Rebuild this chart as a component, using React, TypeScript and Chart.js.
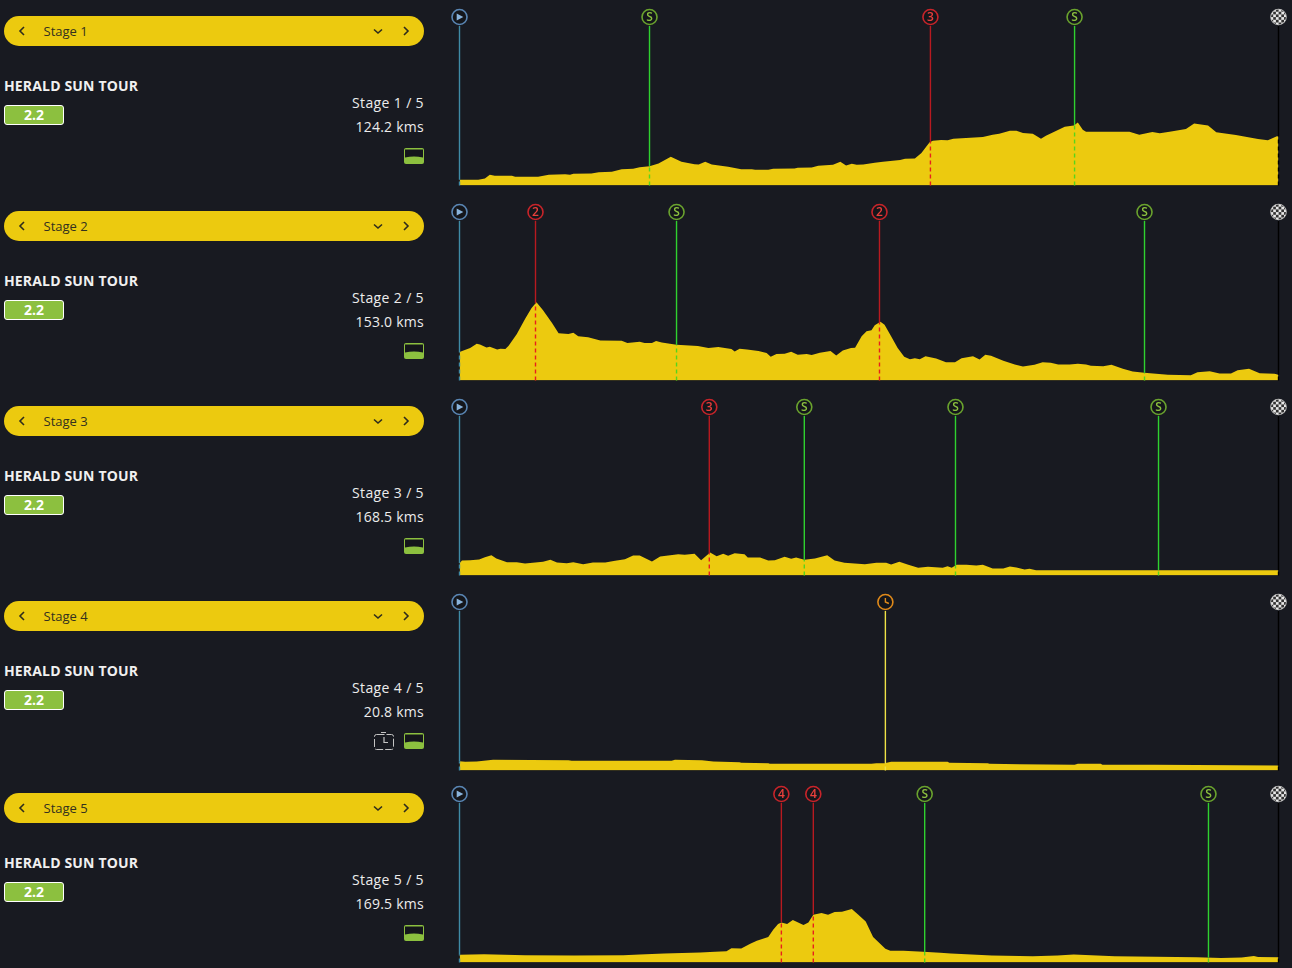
import React, { useEffect, useRef } from "react";
import { Chart, registerables } from "chart.js";

Chart.register(...registerables);

const raceName = "HERALD SUN TOUR";
const raceClass = "2.2";
const stageLabels = ["Stage 1", "Stage 2", "Stage 3", "Stage 4", "Stage 5"];
const stageCounts = ["Stage 1 / 5", "Stage 2 / 5", "Stage 3 / 5", "Stage 4 / 5", "Stage 5 / 5"];
const stageDistances = ["124.2 kms", "153.0 kms", "168.5 kms", "20.8 kms", "169.5 kms"];

const stage1Pct = [0, 2.3, 3.1, 3.7, 4.3, 6.4, 6.8, 9.6, 10.9, 12.9, 13.5, 13.9, 16.1, 17, 18.6, 19.8, 21.2, 22, 23.2, 24.3, 25.8, 27.1, 28.7, 29.2, 30, 30.8, 32.8, 34.4, 35.7, 36.1, 37.7, 38.3, 40.9, 41.3, 43, 43.8, 45.6, 46.5, 47.2, 47.9, 48.5, 49.3, 50.7, 51.7, 53.8, 54.4, 55.6, 56.4, 57.4, 57.8, 58.8, 59.6, 60.3, 63.9, 65.1, 65.9, 67.2, 68, 68.8, 70, 71, 71.6, 73.9, 75, 75.5, 76.1, 76.5, 81.8, 83, 84.6, 85.5, 86.7, 88.7, 89.7, 91.4, 92.4, 94.8, 97.5, 98.7, 99.8, 100];
const stage1Elev = [57, 57, 70, 107, 97, 97, 87, 87, 107, 113, 107, 117, 120, 133, 137, 163, 167, 183, 193, 220, 287, 237, 213, 210, 237, 210, 187, 163, 163, 157, 157, 167, 170, 177, 180, 197, 207, 237, 200, 217, 207, 210, 227, 237, 253, 267, 270, 323, 430, 447, 453, 450, 467, 483, 507, 517, 547, 547, 523, 517, 467, 497, 587, 597, 627, 557, 537, 537, 507, 533, 520, 537, 563, 617, 597, 530, 503, 463, 450, 490, 490];

const stage2Pct = [0, 1.3, 2.1, 2.5, 3.3, 3.7, 4.6, 5, 5.6, 6, 7, 8, 8.8, 9.4, 10.2, 11.3, 12.1, 13.3, 13.9, 14.5, 15.7, 17.2, 19.8, 20.5, 22, 22.6, 23.5, 24, 24.7, 26.5, 29.1, 30.4, 31.6, 33.2, 33.6, 34.2, 35.1, 36.5, 37.5, 38, 38.7, 39.7, 40.5, 41.3, 42.4, 43, 44, 45.3, 46, 46.8, 47.8, 48.3, 49.1, 49.7, 50.3, 50.7, 51.4, 51.9, 52.7, 53.5, 54.3, 55, 55.6, 56.2, 56.9, 58.2, 59.4, 60.5, 61.3, 62.7, 63.5, 64.2, 64.9, 66.4, 67.8, 68.8, 70.2, 71.2, 72.2, 73.1, 74.5, 75.5, 76.5, 77.1, 78.6, 79.6, 81, 82.2, 83.6, 86.5, 89.3, 90.1, 91.6, 92.8, 94.2, 95, 96.4, 97.7, 99.5, 100];
const stage2Elev = [283, 323, 367, 360, 330, 337, 310, 317, 313, 347, 463, 613, 723, 780, 700, 573, 470, 463, 477, 440, 430, 400, 397, 373, 387, 373, 373, 393, 380, 357, 343, 323, 333, 313, 290, 317, 310, 293, 273, 237, 263, 267, 287, 257, 263, 253, 277, 293, 250, 300, 323, 327, 440, 490, 500, 550, 587, 557, 440, 323, 237, 213, 223, 213, 243, 220, 183, 183, 223, 243, 210, 257, 247, 197, 160, 140, 157, 183, 177, 160, 160, 167, 160, 147, 143, 157, 117, 90, 77, 57, 53, 83, 93, 70, 70, 103, 117, 73, 67, 57];

const stage3Pct = [0, 0.3, 1.3, 2.4, 3.1, 3.9, 4.5, 5.8, 7, 8, 10.2, 11.1, 11.9, 13.1, 13.9, 15.1, 16.3, 17.8, 19, 20.2, 21.2, 22, 23.5, 24.5, 26.7, 27.5, 28.7, 29.5, 30.6, 31.4, 32.2, 32.8, 33.6, 34.8, 35.2, 36.7, 37.7, 38.5, 39.7, 40.5, 41.1, 42.1, 43.4, 44.9, 45.8, 47, 49.5, 50.9, 52.1, 52.7, 53.7, 54.8, 56, 57.2, 59, 59.6, 60.1, 60.7, 61.9, 63.1, 63.9, 65.1, 66.4, 67.2, 68, 69, 69.6, 70.4, 100];
const stage3Elev = [123, 150, 153, 160, 183, 203, 170, 133, 133, 120, 137, 157, 130, 123, 133, 113, 130, 130, 147, 163, 200, 200, 140, 190, 213, 207, 217, 153, 230, 193, 217, 197, 223, 213, 180, 180, 150, 153, 187, 167, 180, 157, 170, 203, 150, 127, 113, 127, 127, 110, 137, 107, 77, 87, 77, 93, 77, 107, 107, 100, 107, 70, 70, 90, 80, 60, 67, 53, 53];

const stage4Pct = [0, 0.7, 2.1, 4.1, 13.3, 13.7, 25.9, 26.3, 29.6, 31, 34.2, 34.4, 37.7, 37.9, 50.3, 50.9, 51.9, 52.7, 59.6, 59.8, 64.5, 64.7, 68.4, 75.1, 75.5, 78.3, 78.5, 84.8, 99.9, 100];
const stage4Elev = [93, 87, 90, 107, 103, 97, 97, 107, 103, 90, 83, 77, 73, 67, 67, 73, 73, 87, 87, 77, 73, 67, 63, 57, 67, 67, 57, 57, 50, 50];

const stage5Pct = [0, 3, 8, 14, 20, 22, 25, 29.4, 31.2, 32.6, 33.2, 34.4, 35.5, 36.3, 37.7, 38.3, 38.9, 39.3, 40, 40.7, 42, 42.6, 43.2, 44.2, 45, 45.8, 46.7, 47.9, 48.7, 49.6, 50.5, 52, 52.6, 54.2, 55.4, 56.6, 58.7, 60, 65, 70, 73, 75, 80, 85, 90, 93, 95.5, 97, 97.5, 100];
const stage5Elev = [77, 83, 73, 70, 73, 80, 90, 100, 107, 113, 143, 140, 187, 217, 253, 327, 383, 400, 383, 423, 373, 400, 477, 493, 477, 503, 507, 533, 477, 410, 253, 137, 117, 117, 113, 107, 97, 90, 70, 63, 70, 80, 63, 57, 53, 45, 50, 65, 55, 53];

const profilePcts = [stage1Pct, stage2Pct, stage3Pct, stage4Pct, stage5Pct];
const profileElevs = [stage1Elev, stage2Elev, stage3Elev, stage4Elev, stage5Elev];

// Marker kinds: P start, S sprint, digit climb category, T time check, F finish
const stage1MarkerPct = [0, 23.2, 57.5, 75.1, 100];
const stage1MarkerKind = ["P", "S", "3", "S", "F"];
const stage2MarkerPct = [0, 9.28, 26.5, 51.28, 83.64, 100];
const stage2MarkerKind = ["P", "2", "S", "2", "S", "F"];
const stage3MarkerPct = [0, 30.5, 42.1, 60.56, 85.35, 100];
const stage3MarkerKind = ["P", "3", "S", "S", "S", "F"];
const stage4MarkerPct = [0, 52, 100];
const stage4MarkerKind = ["P", "T", "F"];
const stage5MarkerPct = [0, 39.3, 43.2, 56.8, 91.45, 100];
const stage5MarkerKind = ["P", "4", "4", "S", "S", "F"];

const markerPcts = [stage1MarkerPct, stage2MarkerPct, stage3MarkerPct, stage4MarkerPct, stage5MarkerPct];
const markerKinds = [stage1MarkerKind, stage2MarkerKind, stage3MarkerKind, stage4MarkerKind, stage5MarkerKind];

const PAGE_BG = "#181a21";
const YELLOW = "#ecca0f";
const PANEL_STEP = [0, 195, 390, 585, 777];
const Y_MAX = 1680;
const LINE_TOP = 1590;

function colours(kind: string) {
  if (kind === "P") return { ring: "#5a86b4", line: "#3f8ba6", dash: "#3f8ba6", glyph: "#8ab4dc" };
  if (kind === "S") return { ring: "#6aa32e", line: "#2fd12f", dash: "#55d51c", glyph: "#8cc03f" };
  if (kind === "T") return { ring: "#e08a1a", line: "#efe246", dash: "#efe246", glyph: "#e08a1a" };
  if (kind === "F") return { ring: "#bbbbbb", line: "#000000", dash: "#000000", glyph: "#ffffff" };
  return { ring: "#c8242a", line: "#b81a20", dash: "#e8201c", glyph: "#e8403c" };
}

function elevAt(pcts: number[], elevs: number[], p: number) {
  for (let i = 1; i < pcts.length; i++) {
    if (p <= pcts[i]) {
      const t = (p - pcts[i - 1]) / (pcts[i] - pcts[i - 1]);
      return elevs[i - 1] + t * (elevs[i] - elevs[i - 1]);
    }
  }
  return elevs[elevs.length - 1];
}

const glyphPlugin = {
  id: "markerGlyphs",
  afterDatasetsDraw(chart: any) {
    const ctx = chart.ctx;
    chart.data.datasets.forEach((ds: any, di: number) => {
      if (!ds.markerKinds) return;
      const meta = chart.getDatasetMeta(di);
      meta.data.forEach((pt: any, i: number) => {
        const kind = ds.markerKinds[i];
        const c = colours(kind);
        const { x, y } = pt;
        ctx.save();
        if (kind === "P") {
          ctx.fillStyle = c.glyph;
          ctx.beginPath();
          ctx.moveTo(x - 2.8, y - 3.5);
          ctx.lineTo(x + 3.8, y);
          ctx.lineTo(x - 2.8, y + 3.5);
          ctx.closePath();
          ctx.fill();
        } else if (kind === "F") {
          ctx.beginPath();
          ctx.arc(x, y, 7.5, 0, Math.PI * 2);
          ctx.clip();
          ctx.fillStyle = "#e8e8e8";
          ctx.fillRect(x - 8, y - 8, 16, 16);
          ctx.fillStyle = "#333333";
          for (let a = 0; a < 6; a++) {
            for (let b = 0; b < 6; b++) {
              if ((a + b) % 2 === 0) ctx.fillRect(x - 8 + a * 2.7, y - 8 + b * 2.7, 2.7, 2.7);
            }
          }
        } else if (kind === "T") {
          ctx.strokeStyle = c.glyph;
          ctx.lineWidth = 1.4;
          ctx.beginPath();
          ctx.moveTo(x, y - 4);
          ctx.lineTo(x, y);
          ctx.lineTo(x + 3.5, y + 1.5);
          ctx.stroke();
        } else {
          ctx.fillStyle = c.glyph;
          ctx.font = "600 12px 'Open Sans'";
          ctx.textAlign = "center";
          ctx.textBaseline = "middle";
          ctx.fillText(kind, x, y + 0.5);
        }
        ctx.restore();
      });
    });
  },
};

function Profile({ index }: { index: number }) {
  const ref = useRef<HTMLCanvasElement | null>(null);
  useEffect(() => {
    if (!ref.current) return;
    const pcts = profilePcts[index];
    const elevs = profileElevs[index];
    const mPcts = markerPcts[index];
    const mKinds = markerKinds[index];
    const lines: any[] = [];
    mPcts.forEach((p, i) => {
      const c = colours(mKinds[i]);
      const ground = elevAt(pcts, elevs, p);
      lines.push({
        order: 1,
        data: [
          { x: p, y: ground },
          { x: p, y: LINE_TOP },
        ],
        borderColor: c.line,
        borderWidth: 1.4,
        pointRadius: 0,
        fill: false,
        clip: false,
      });
      lines.push({
        order: 1,
        data: [
          { x: p, y: 0 },
          { x: p, y: ground },
        ],
        borderColor: c.dash,
        borderWidth: 1.4,
        borderDash: [4, 3],
        pointRadius: 0,
        fill: false,
        clip: false,
      });
    });
    const chart = new Chart(ref.current, {
      type: "line",
      data: {
        datasets: [
          {
            order: 0,
            data: mPcts.map((p) => ({ x: p, y: Y_MAX })),
            markerKinds: mKinds,
            showLine: false,
            clip: false,
            pointStyle: "circle",
            pointRadius: 7.5,
            pointBorderWidth: 1.6,
            pointBackgroundColor: "#14161b",
            pointBorderColor: mKinds.map((k) => colours(k).ring),
          },
          ...lines,
          {
            order: 2,
            data: pcts.map((p, i) => ({ x: p, y: elevs[i] })),
            borderWidth: 0,
            pointRadius: 0,
            tension: 0,
            fill: "origin",
            backgroundColor: YELLOW,
          },
        ] as any,
      },
      options: {
        animation: false,
        responsive: false,
        events: [],
        layout: { autoPadding: false, padding: { left: 19.5, right: 13.5, top: 17, bottom: 0.5 } },
        plugins: { legend: { display: false }, tooltip: { enabled: false } },
        scales: {
          x: { type: "linear", min: 0, max: 100, display: false },
          y: { type: "linear", min: 0, max: Y_MAX, display: false },
        },
      },
      plugins: [glyphPlugin],
    } as any);
    return () => chart.destroy();
  }, [index]);
  return (
    <canvas
      ref={ref}
      width={852}
      height={186}
      style={{ position: "absolute", left: 440, top: PANEL_STEP[index], width: 852, height: 186 }}
    />
  );
}

function Chevron({ x, y, d }: { x: number; y: number; d: string }) {
  return (
    <svg width="14" height="14" style={{ position: "absolute", left: x - 7, top: y - 7 }}>
      <path d={d} fill="none" stroke="#2e2c1c" strokeWidth="1.6" />
    </svg>
  );
}

function RoadIcon({ x, y }: { x: number; y: number }) {
  return (
    <svg width="20" height="16" style={{ position: "absolute", left: x, top: y }}>
      <rect x="0" y="0" width="20" height="16" rx="2" fill="#8cc03f" />
      <path d="M1 1.5 H19 V9.5 Q10 7.5 1 9.5 Z" fill="#14161b" />
    </svg>
  );
}

function ClockIcon({ x, y }: { x: number; y: number }) {
  return (
    <svg width="20" height="18" style={{ position: "absolute", left: x, top: y }}>
      <rect x="0.5" y="2.5" width="19" height="15" rx="2" fill="none" stroke="#c4c4c4" strokeWidth="1" strokeDasharray="8 2" />
      <path d="M7 0.5 H12 M10 5 V10.5 H14" fill="none" stroke="#c4c4c4" strokeWidth="1.2" />
    </svg>
  );
}

function Panel({ index }: { index: number }) {
  const top = PANEL_STEP[index];
  const textBase: React.CSSProperties = {
    position: "absolute",
    fontFamily: "'Open Sans', sans-serif",
    whiteSpace: "nowrap",
  };
  return (
    <>
      <div
        style={{
          position: "absolute",
          left: 4,
          top: top + 16,
          width: 420,
          height: 30,
          borderRadius: 15,
          background: YELLOW,
        }}
      />
      <Chevron x={22} y={top + 31} d="M9 3 L5 7 L9 11" />
      <Chevron x={378} y={top + 31} d="M3 5.5 L7 9 L11 5.5" />
      <Chevron x={406} y={top + 31} d="M5 3 L9 7 L5 11" />
      <div style={{ ...textBase, left: 43.5, top: top + 22, lineHeight: "18px", fontSize: 13, color: "#33311f" }}>
        {stageLabels[index]}
      </div>
      <div style={{ ...textBase, left: 4, top: top + 76, lineHeight: "20px", fontSize: 14, fontWeight: 700, letterSpacing: "0.16px", color: "#f0f0f0" }}>
        {raceName}
      </div>
      <div
        style={{
          ...textBase,
          left: 4,
          top: top + 105,
          width: 60,
          height: 20,
          boxSizing: "border-box",
          border: "1px solid #ffffff",
          borderRadius: 3,
          background: "#8cc03f",
          color: "#ffffff",
          fontSize: 14,
          fontWeight: 700,
          lineHeight: "18px",
          textAlign: "center",
        }}
      >
        {raceClass}
      </div>
      <div style={{ ...textBase, right: 1292 - 424, top: top + 93, lineHeight: "20px", fontSize: 14, letterSpacing: "0.36px", color: "#ececec" }}>
        {stageCounts[index]}
      </div>
      <div style={{ ...textBase, right: 1292 - 424, top: top + 117, lineHeight: "20px", fontSize: 14, letterSpacing: "0.25px", color: "#ececec" }}>
        {stageDistances[index]}
      </div>
      {markerKinds[index].includes("T") ? <ClockIcon x={374} y={top + 147} /> : null}
      <RoadIcon x={404} y={top + 148} />
      <Profile index={index} />
    </>
  );
}

export default function App() {
  return (
    <div style={{ position: "relative", width: 1292, height: 968, overflow: "hidden", background: PAGE_BG }}>
      <style>{`html,body{margin:0;padding:0;background:${PAGE_BG};overflow:hidden}`}</style>
      {stageLabels.map((_, i) => (
        <Panel key={i} index={i} />
      ))}
    </div>
  );
}
